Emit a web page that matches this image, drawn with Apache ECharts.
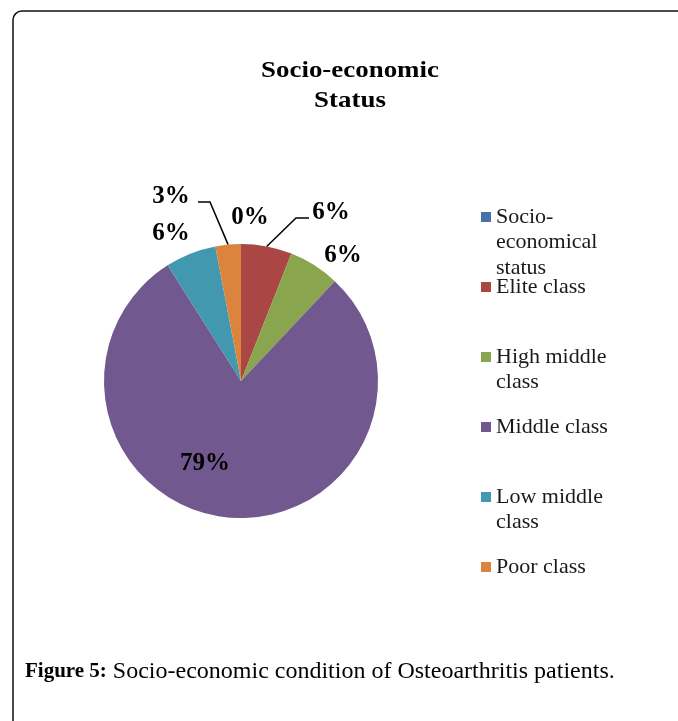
<!DOCTYPE html>
<html>
<head>
<meta charset="utf-8">
<style>
  html, body { margin: 0; padding: 0; background: #fff; }
  #chart { width: 678px; height: 721px; }
</style>
<script src="https://cdn.jsdelivr.net/npm/echarts@6/dist/echarts.min.js"></script>
</head>
<body>
<div id="chart"></div>
<script>
// Socio-economic status of the patients (percent of respondents)
const categories = ['Socio-economical status', 'Elite class', 'High middle class', 'Middle class', 'Low middle class', 'Poor class'];
const shares = [0, 6, 6, 79, 6, 3];
const legendText = ['Socio-\neconomical\nstatus', 'Elite class', 'High middle\nclass', 'Middle class', 'Low middle\nclass', 'Poor class'];
const sliceColors = ['#4572A7', '#AA4643', '#89A54E', '#71588F', '#4198AF', '#DB843D'];

// Where each percentage label sits; two of them are tied to their slice with an elbow line
const labelSpots = [
  { x: 250, y: 218 },
  { x: 331, y: 213, line: [[296, 218], [309, 218]] },
  { x: 343, y: 256 },
  { x: 205, y: 464 },
  { x: 171, y: 234 },
  { x: 171, y: 197, line: [[210, 202], [198, 202]] }
];

const serif = "'Liberation Serif', 'Times New Roman', serif";

// Legend: one entry per block, evenly spaced, icon level with the first text line
const legendLeft = 481;
const legendFirstLine = 217;
const legendStep = 70;
const legendLineHeight = 25.5;

const chart = echarts.init(document.getElementById('chart'), null, { renderer: 'canvas' });

const pieData = categories.map((name, i) => ({
  name: name,
  value: shares[i],
  itemStyle: { color: sliceColors[i] },
  labelLine: { show: !!labelSpots[i].line }
}));

// Legend text is centred on its icon, so wrapped entries get blank lines in front
// to keep their first line beside the icon.
const legends = categories.map((name, i) => {
  const lines = legendText[i].split('\n').length;
  return {
    orient: 'vertical',
    left: legendLeft,
    top: legendFirstLine + i * legendStep - (2 * lines - 1) * legendLineHeight / 2,
    padding: 0,
    itemWidth: 10, itemHeight: 10,
    icon: 'rect',
    selectedMode: false,
    data: [name],
    formatter: () => '\n'.repeat(lines - 1) + legendText[i],
    textStyle: {
      fontFamily: serif, fontSize: 22, color: '#1a1a1a',
      lineHeight: legendLineHeight
    }
  };
});

chart.setOption({
  animation: false,
  color: sliceColors,
  graphic: [
    {
      type: 'rect',
      shape: { x: 13, y: 11, width: 720, height: 740, r: 9 },
      style: { fill: 'none', stroke: '#111', lineWidth: 1.5 },
      silent: true
    },
    {
      type: 'text',
      x: 350, y: 56,
      scaleX: 1.17,
      style: {
        text: 'Socio-economic\nStatus',
        align: 'center', verticalAlign: 'top',
        fontFamily: serif, fontWeight: 'bold', fontSize: 23, lineHeight: 30,
        fill: '#000'
      }
    },
    {
      type: 'text',
      x: 25, y: 672,
      style: {
        text: '{b|Figure 5:} Socio-economic condition of Osteoarthritis patients.',
        verticalAlign: 'middle',
        fontFamily: serif, fontSize: 24, fill: '#000',
        rich: { b: { fontFamily: serif, fontSize: 21, fontWeight: 'bold', fill: '#000' } }
      }
    }
  ],
  legend: legends,
  series: [{
    type: 'pie',
    center: [241, 381],
    radius: 137,
    startAngle: 90,
    clockwise: true,
    avoidLabelOverlap: false,
    emphasis: { disabled: true },
    data: pieData,
    label: {
      show: true,
      position: 'outside',
      formatter: '{c}%',
      fontFamily: serif, fontWeight: 'bold', fontSize: 25, color: '#000'
    },
    labelLine: {
      show: true,
      lineStyle: { color: '#000', width: 1.5 }
    },
    labelLayout: function (p) {
      const spot = labelSpots[p.dataIndex];
      const out = { x: spot.x, y: spot.y, align: 'center', verticalAlign: 'middle' };
      if (spot.line && p.labelLinePoints) {
        out.labelLinePoints = [p.labelLinePoints[0], spot.line[0], spot.line[1]];
      }
      return out;
    }
  }]
});
</script>
</body>
</html>
